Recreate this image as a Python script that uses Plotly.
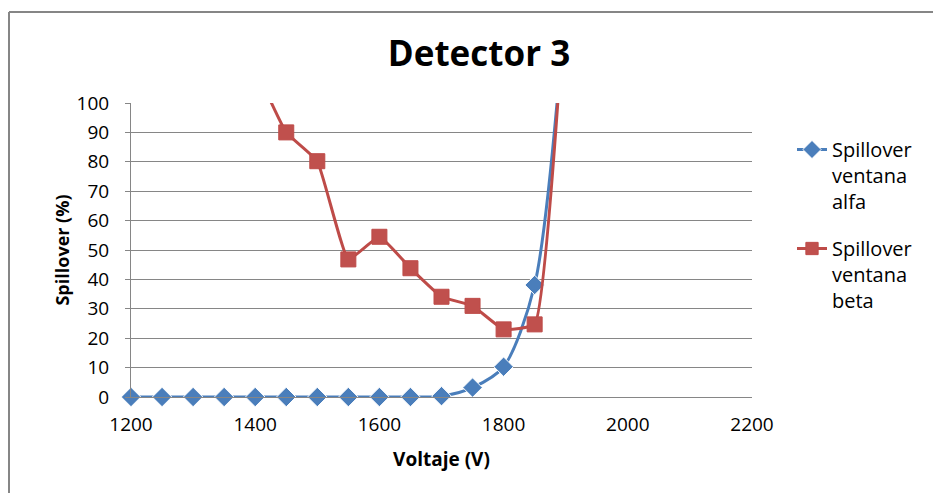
import plotly.graph_objects as go

voltaje_alfa = [1200, 1250, 1300, 1350, 1400, 1450, 1500, 1550, 1600, 1650, 1700, 1750, 1800, 1850, 1900]
spill_alfa = [0, 0, 0, 0, 0, 0, 0, 0, 0, 0, 0.3, 3.2, 10.3, 38.1, 135]

voltaje_beta = [1400, 1450, 1500, 1550, 1600, 1650, 1700, 1750, 1800, 1850, 1900]
spill_beta = [112, 90.0, 80.2, 46.8, 54.5, 43.8, 34.1, 31.0, 23.0, 24.7, 140]

x_ticks = [1200, 1400, 1600, 1800, 2000, 2200]
y_ticks = list(range(0, 101, 10))

YMAX = 100
FONT = "Open Sans"

def sizes(vals, s):
    return [s if 0 <= v <= YMAX else 0 for v in vals]

fig = go.Figure()
fig.add_trace(go.Scatter(
    x=voltaje_alfa, y=spill_alfa, name="Spillover<br>ventana<br>alfa",
    mode="lines+markers", line=dict(color="#4A7EBB", width=3, shape="spline", smoothing=0.8),
    marker=dict(symbol="diamond", size=sizes(spill_alfa, 15), color="#4A7EBB", opacity=1),
    cliponaxis=False, legendgroup="g0",
))
fig.add_trace(go.Scatter(
    x=voltaje_beta, y=spill_beta, name="Spillover<br>ventana<br>beta",
    mode="lines+markers", line=dict(color="#BE4B48", width=3, shape="spline", smoothing=0.35),
    marker=dict(symbol="square", size=sizes(spill_beta, 15), color="#C0504D", opacity=1),
    cliponaxis=False, legendgroup="g1",
))

L, R, T, B = 131, 181, 103, 96
W, H = 933, 493
pw, ph = W - L - R, H - T - B

def px_to_paper_x(px):
    return (px - L) / pw

def px_to_paper_y(py):
    return (H - B - py) / ph

fig.update_layout(
    width=W, height=H,
    margin=dict(l=L, r=R, t=T, b=B),
    paper_bgcolor="white", plot_bgcolor="white",
    font=dict(family=FONT, color="#000000"),
    title=dict(text="<b>Detector 3</b>", x=479 / W, xanchor="center",
               y=1 - 54 / H, yanchor="middle", font=dict(size=35, family=FONT)),
    xaxis=dict(range=[1200, 2200], tickvals=x_ticks, showgrid=False, zeroline=False,
               showline=True, linecolor="#868686", linewidth=1, ticks="",
               tickfont=dict(size=19), ticklabelstandoff=10,
               title=dict(text="<b>Voltaje (V)</b>", font=dict(size=19), standoff=16)),
    yaxis=dict(range=[0, YMAX], tickvals=y_ticks, showgrid=True, gridcolor="#868686",
               gridwidth=1, zeroline=False, showline=True, linecolor="#868686", linewidth=1,
               ticks="outside", ticklen=5, tickcolor="#868686",
               tickfont=dict(size=19), ticklabelstandoff=12,
               title=dict(text="<b>Spillover (%)</b>", font=dict(size=18), standoff=2)),
    legend=dict(x=px_to_paper_x(792), xanchor="left", y=px_to_paper_y(130), yanchor="top",
                font=dict(size=20, family=FONT), tracegroupgap=18, bgcolor="rgba(0,0,0,0)",
                itemwidth=30, valign="top", traceorder="grouped"),
    showlegend=True,
    shapes=[
        dict(type="line", xref="paper", yref="paper",
             x0=px_to_paper_x(9), x1=px_to_paper_x(9),
             y0=px_to_paper_y(12), y1=px_to_paper_y(500),
             line=dict(color="#868686", width=2)),
        dict(type="line", xref="paper", yref="paper",
             x0=px_to_paper_x(9), x1=px_to_paper_x(940),
             y0=px_to_paper_y(12), y1=px_to_paper_y(12),
             line=dict(color="#868686", width=2)),
    ],
)

fig.write_html("out.html", config={"displayModeBar": False},
               post_script="document.body.style.margin='0px';")
